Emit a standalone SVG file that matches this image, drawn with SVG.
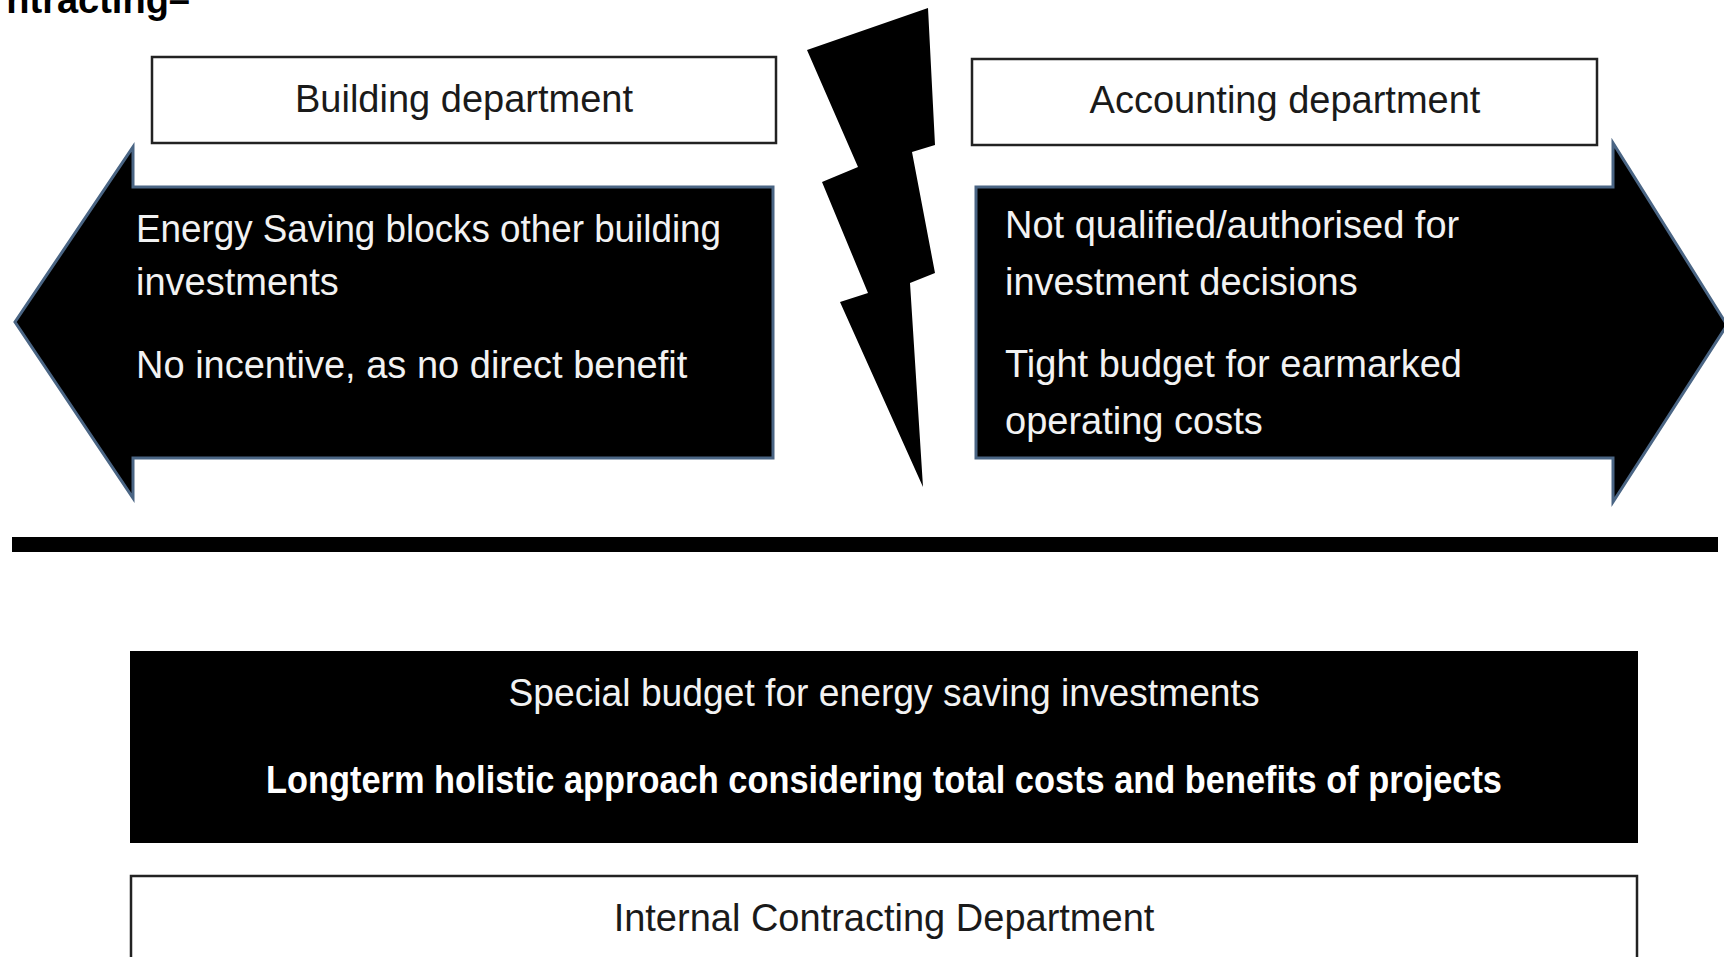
<svg xmlns="http://www.w3.org/2000/svg" width="1724" height="957" viewBox="0 0 1724 957">
<style>
.t{font-family:"Liberation Sans",Arial,sans-serif;font-size:38px;}
.dark{fill:#1a1a1a;}
.light{fill:#f2f2f2;}
.box{fill:#fff;stroke:#222;stroke-width:2.5;}
.arrow{fill:#000;stroke:#4a6584;stroke-width:3;stroke-linejoin:miter;}
</style>
<rect width="1724" height="957" fill="#fff"/>
<text x="190" y="13" class="t" font-weight="bold" font-size="34" text-anchor="end" fill="#000">ntracting–</text>
<g id="building">
<rect class="box" x="152" y="57" width="624" height="86"/>
<text class="t dark" x="464" y="112" text-anchor="middle">Building department</text>
</g>
<g id="accounting">
<rect class="box" x="972" y="59" width="625" height="86"/>
<text class="t dark" x="1285" y="113" text-anchor="middle">Accounting department</text>
</g>
<g id="left-arrow">
<polygon class="arrow" points="773,187 133,187 133,147 15,322 133,498 133,458 773,458"/>
<text class="t light" x="136" y="242" textLength="585" lengthAdjust="spacingAndGlyphs">Energy Saving blocks other building</text>
<text class="t light" x="136" y="295">investments</text>
<text class="t light" x="136" y="378">No incentive, as no direct benefit</text>
</g>
<g id="right-arrow">
<polygon class="arrow" points="976,187 1613,187 1613,143 1727,325 1613,502 1613,458 976,458"/>
<text class="t light" x="1005" y="238">Not qualified/authorised for</text>
<text class="t light" x="1005" y="295">investment decisions</text>
<text class="t light" x="1005" y="377">Tight budget for earmarked</text>
<text class="t light" x="1005" y="434">operating costs</text>
</g>
<g id="bolt">
<polygon fill="#000" points="807,50 928,8 935,145 912,152 935,273 910,283 923,487 840,302 868,293 822,182 858,167"/>
</g>
<g id="divider">
<rect x="12" y="537" width="1706" height="15" fill="#000"/>
</g>
<g id="special-budget">
<rect x="130" y="651" width="1508" height="192" fill="#000"/>
<text class="t light" x="884" y="706" text-anchor="middle" font-size="37" textLength="751" lengthAdjust="spacingAndGlyphs">Special budget for energy saving investments</text>
<text class="t" x="884" y="793" text-anchor="middle" font-weight="bold" font-size="35" fill="#fff" textLength="1236" lengthAdjust="spacingAndGlyphs">Longterm holistic approach considering total costs and benefits of projects</text>
</g>
<g id="internal-contracting">
<rect class="box" x="131" y="876" width="1506" height="100"/>
<text class="t dark" x="884" y="931" text-anchor="middle">Internal Contracting Department</text>
</g>
<g id="connectors"></g>
</svg>
